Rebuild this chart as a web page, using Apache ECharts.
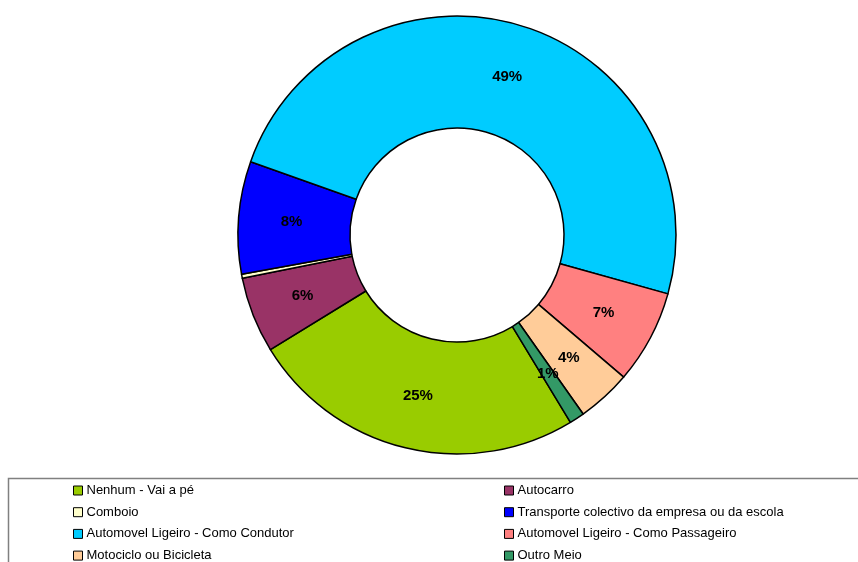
<!DOCTYPE html>
<html>
<head>
<meta charset="utf-8">
<script src="https://cdn.jsdelivr.net/npm/echarts@6/dist/echarts.min.js"></script>
<style>
  html, body { margin: 0; padding: 0; background: #fff; }
  #main { width: 858px; height: 562px; }
</style>
</head>
<body>
<div id="main"></div>
<script>
// categorias e percentagens
const categories = [
    "Nenhum - Vai a pé",
    "Autocarro",
    "Comboio",
    "Transporte colectivo da empresa ou da escola",
    "Automovel Ligeiro - Como Condutor",
    "Automovel Ligeiro - Como Passageiro",
    "Motociclo ou Bicicleta",
    "Outro Meio"
];
const values = [24.9, 5.6, 0.3, 8.3, 48.9, 6.9, 4.0, 1.1];
const palette = ["#99CC00", "#993366", "#FFFFCC", "#0000FF", "#00CCFF", "#FF8080", "#FFCC99", "#339966"];

// colunas da legenda
const legendLeft = [categories[0], categories[2], categories[4], categories[6]];
const legendRight = [categories[1], categories[3], categories[5], categories[7]];

const chart = echarts.init(document.getElementById("main"));

const legendBase = {
    orient: "vertical",
    top: 483.5,
    height: 200,
    icon: "rect",
    itemWidth: 9,
    itemHeight: 9,
    itemGap: 7.7,
    itemStyle: { borderColor: "#000", borderWidth: 1 },
    textStyle: { fontFamily: "Liberation Sans, Arial", fontSize: 13, color: "#000", lineHeight: 14, padding: [0, 0, 0, -1] },
    padding: 0
};

chart.setOption({
    animation: false,
    backgroundColor: "#fff",
    color: palette,
    graphic: [{
        type: "rect",
        shape: { x: 8.5, y: 478.5, width: 870, height: 120 },
        style: { fill: "none", stroke: "#808080", lineWidth: 1.5 },
        silent: true
    }],
    legend: [
        Object.assign({}, legendBase, { left: 73, data: legendLeft }),
        Object.assign({}, legendBase, { left: 504, data: legendRight })
    ],
    series: [{
        type: "pie",
        center: [457, 235],
        radius: [107, 219],
        startAngle: -58.8,
        clockwise: true,
        avoidLabelOverlap: false,
        itemStyle: { borderColor: "#000", borderWidth: 1.5 },
        label: {
            position: "inside",
            fontFamily: "Liberation Sans, Arial",
            fontSize: 15,
            fontWeight: "bold",
            color: "#000",
            formatter: p => p.percent < 0.5 ? "" : Math.round(p.percent) + "%"
        },
        labelLine: { show: false },
        emphasis: { disabled: true },
        data: categories.map((name, i) => ({ name, value: values[i] }))
    }]
});
</script>
</body>
</html>
